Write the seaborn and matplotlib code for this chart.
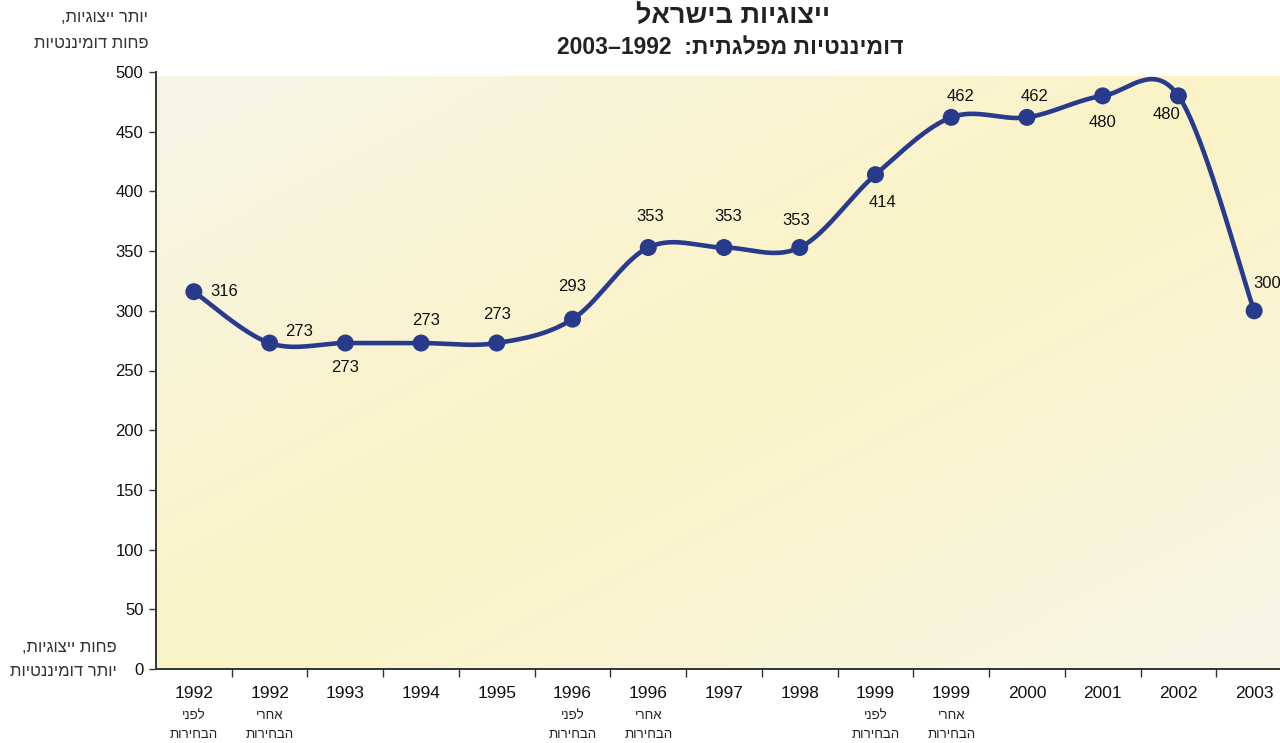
import numpy as np
import matplotlib
matplotlib.use("Agg")
import matplotlib.pyplot as plt
import seaborn as sns
import pandas as pd

# data
years = ["1992", "1992", "1993", "1994", "1995", "1996", "1996", "1997", "1998",
         "1999", "1999", "2000", "2001", "2002", "2003"]
notes = ["לפני", "אחרי", "", "", "", "לפני", "אחרי", "", "", "לפני", "אחרי", "", "", "", ""]
values = [316, 273, 273, 273, 273, 293, 353, 353, 353, 414, 462, 462, 480, 480, 300]
yticks = [0, 50, 100, 150, 200, 250, 300, 350, 400, 450, 500]

# label offsets in pixels (dx, dy)
label_off = [(30, 0), (29, 12), (0, -24), (5, 23), (0, 29), (0, 33), (2, 31), (4, 31),
             (-4, 27), (7, -28), (9, 21), (8, 21), (0, -27), (-12, -19), (13, 27)]


def heb(s):
    # matplotlib has no bidi, so flip hebrew text to visual order
    return s[::-1]


sns.set_theme(style="white")
plt.rcParams["font.family"] = ["Liberation Sans", "DejaVu Sans"]

df = pd.DataFrame({"x": np.arange(len(values)), "value": values})

fig = plt.figure(figsize=(12.8, 7.43), dpi=100)
ax = fig.add_axes([156 / 1280, 1 - 669 / 743, 1136 / 1280, 597 / 743])

# diagonal gradient background
n = 300
u, v = np.meshgrid(np.linspace(0, 1, n), np.linspace(0, 1, n))
t = 1 - np.abs((u + v) - 1)  # 0 at tl/br corners, 1 on the anti-diagonal
light = np.array([247, 245, 232]) / 255
yellow = np.array([251, 243, 197]) / 255
grad = light[None, None, :] * (1 - t[..., None]) + yellow[None, None, :] * t[..., None]
ax.imshow(grad, extent=[0, 1, 0, 0.993], transform=ax.transAxes, aspect="auto",
          zorder=0, origin="upper")

# smoothed line (bezier through the points, like excel smoothing)
x = df["x"].to_numpy(float)
y = df["value"].to_numpy(float)
xs, ys = [], []
tt = np.linspace(0, 1, 40)
for i in range(len(x) - 1):
    i0, i3 = max(i - 1, 0), min(i + 2, len(x) - 1)
    p0 = np.array([x[i], y[i]])
    p3 = np.array([x[i + 1], y[i + 1]])
    c1 = p0 + (np.array([x[i + 1], y[i + 1]]) - np.array([x[i0], y[i0]])) / 6
    c2 = p3 - (np.array([x[i3], y[i3]]) - np.array([x[i], y[i]])) / 6
    b = ((1 - tt) ** 3)[:, None] * p0 + (3 * (1 - tt) ** 2 * tt)[:, None] * c1 \
        + (3 * (1 - tt) * tt ** 2)[:, None] * c2 + (tt ** 3)[:, None] * p3
    xs.extend(b[:, 0])
    ys.extend(b[:, 1])
ax.plot(xs, ys, color="#283a8b", lw=3.3, zorder=3, solid_capstyle="round")
sns.scatterplot(data=df, x="x", y="value", ax=ax, s=150, color="#283a8b",
                edgecolor="none", zorder=4, legend=False)

for i, val in enumerate(values):
    ax.annotate(str(val), (i, val), xytext=label_off[i], textcoords="offset pixels",
                ha="center", va="center", fontsize=12, color="#111111", zorder=5,
                annotation_clip=False)

ax.set_xlim(-0.5, len(values) - 0.5)
ax.set_ylim(0, 500)
ax.set_xlabel("")
ax.set_ylabel("")

ax.set_yticks(yticks)
ax.set_yticklabels([str(v) for v in yticks], fontsize=12, color="#111111")
ax.tick_params(axis="y", length=5, width=1, color="#333333", pad=4, left=True)

ax.set_xticks(np.arange(len(values)))
ax.set_xticklabels(years, fontsize=12.5, color="#111111")
ax.tick_params(axis="x", which="major", length=0, pad=12)
ax.set_xticks(np.arange(len(values) - 1) + 0.5, minor=True)
ax.tick_params(axis="x", which="minor", length=6, width=1, color="#333333",
               bottom=True, direction="out")

for i, note in enumerate(notes):
    if note:
        ax.annotate(heb(note), (i, 0), xycoords=("data", "axes fraction"),
                    xytext=(0, -47), textcoords="offset pixels", ha="center",
                    va="center", fontsize=9.5, color="#222222", annotation_clip=False)
        ax.annotate(heb("הבחירות"), (i, 0), xycoords=("data", "axes fraction"),
                    xytext=(0, -66), textcoords="offset pixels", ha="center",
                    va="center", fontsize=9.5, color="#222222", annotation_clip=False)

for side in ["top", "right"]:
    ax.spines[side].set_visible(False)
for side in ["left", "bottom"]:
    ax.spines[side].set_color("#333333")
    ax.spines[side].set_linewidth(1.4)

# titles
fig.text(733 / 1280, 1 - 16 / 743, heb("ייצוגיות בישראל"), ha="center", va="center",
         fontsize=19.5, fontweight="bold", color="#222222")
fig.text(730 / 1280, 1 - 48 / 743, "2003–1992  :" + heb("דומיננטיות מפלגתית"),
         ha="center", va="center", fontsize=16.5, fontweight="bold", color="#222222")

# axis end captions
fig.text(148 / 1280, 1 - 18 / 743, heb("יותר ייצוגיות,"), ha="right", va="center",
         fontsize=12, color="#333333")
fig.text(148 / 1280, 1 - 44 / 743, heb("פחות דומיננטיות"), ha="right", va="center",
         fontsize=12, color="#333333")
fig.text(117 / 1280, 1 - 647 / 743, heb("פחות ייצוגיות,"), ha="right", va="center",
         fontsize=12, color="#333333")
fig.text(117 / 1280, 1 - 672 / 743, heb("יותר דומיננטיות"), ha="right", va="center",
         fontsize=12, color="#333333")

fig.savefig("out.png", dpi=100, facecolor="white")
